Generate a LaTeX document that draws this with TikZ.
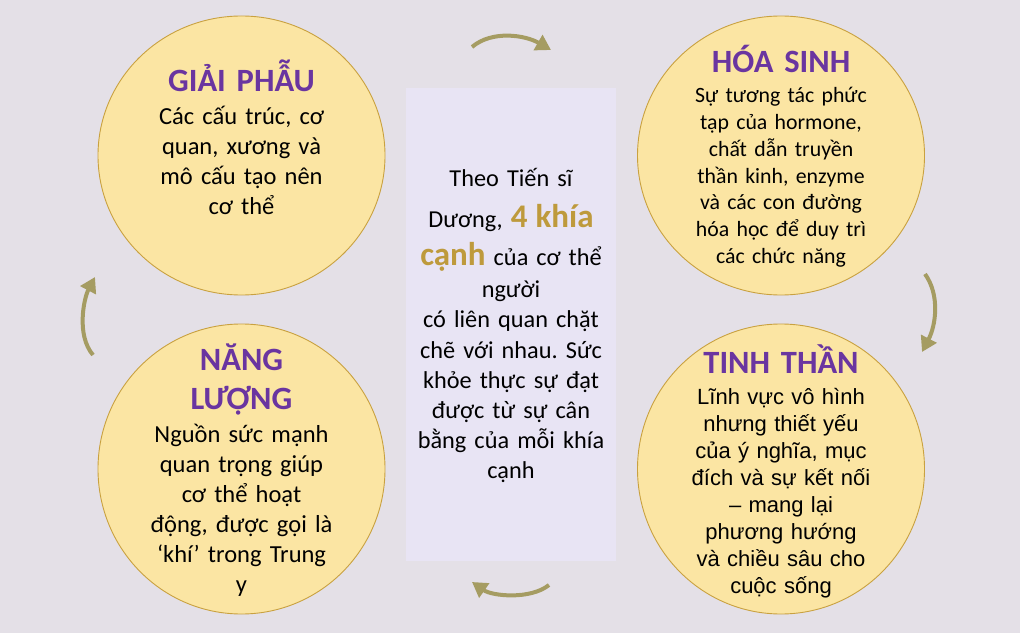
\documentclass[tikz,border=0pt]{standalone}
\usepackage{fontspec}
\setmainfont{Carlito}
\newfontfamily\arialf{Liberation Sans}
\usetikzlibrary{arrows.meta}
\frenchspacing
\definecolor{bgc}{HTML}{E4E0E7}
\definecolor{boxc}{HTML}{E8E4F4}
\definecolor{circfill}{HTML}{FBE5A3}
\definecolor{circdraw}{HTML}{C9A140}
\definecolor{titlec}{HTML}{6A35A0}
\definecolor{goldc}{HTML}{BE9A3C}
\definecolor{arrc}{HTML}{A59C62}
\tikzset{
  aspect/.style={draw=circdraw, line width=0.9pt, fill=circfill},
  ttl/.style={anchor=base, text=titlec, text width=260pt, font=\fontsize{32.5}{39}\selectfont\bfseries, align=center, inner sep=0pt},
  bodyA/.style={anchor=base, text width=240pt, align=center, inner sep=0pt, font=\fontsize{24.5}{30}\selectfont},
  bodyB/.style={anchor=base, text width=240pt, align=center, inner sep=0pt, font=\fontsize{21.8}{26.7}\selectfont},
  bodyC/.style={anchor=base, text width=240pt, align=center, inner sep=0pt, font=\arialf\fontsize{22}{27}\selectfont},
  cyc/.style={draw=arrc, line width=4pt, -{Triangle[length=15pt,width=17pt]}}
}
\newcommand{\bigword}[1]{{\color{goldc}\fontsize{33}{30}\selectfont\bfseries #1}}
\begin{document}
\begin{tikzpicture}[x=1pt,y=-1pt]
\useasboundingbox (0,0) rectangle (1024,636);
\fill[white] (0,0) rectangle (1024,636);
\fill[bgc] (0,0) rectangle (1020,633);
% circles
\draw[aspect] (241.5,155.5) ellipse [x radius=143.5, y radius=139.5];
\draw[aspect] (781,155.5) ellipse [x radius=143.5, y radius=139.5];
\draw[aspect] (241.5,469) ellipse [x radius=143.5, y radius=145];
\draw[aspect] (781,469) ellipse [x radius=143.5, y radius=145];
% center box
\fill[boxc] (406,88) rectangle (616,561);
% titles
\node[ttl] (t1) at (241.5,92) {GIẢI PHẪU};
\node[ttl] (t2) at (781,73) {HÓA SINH};
\node[ttl] (t3) at (241.5,370) {NĂNG\\LƯỢNG};
\node[ttl] (t4) at (781,373) {TINH THẦN};
% bodies
\node[bodyA] (b1) at (241.5,125) {Các cấu trúc, cơ\\quan, xương và\\mô cấu tạo nên\\cơ thể};
\node[bodyB] (b2) at (781,103) {Sự tương tác phức\\tạp của hormone,\\chất dẫn truyền\\thần kinh, enzyme\\và các con đường\\hóa học để duy trì\\các chức năng};
\node[bodyA] (b3) at (241.5,442) {Nguồn sức mạnh\\quan trọng giúp\\cơ thể hoạt\\động, được gọi là\\‘khí’ trong Trung\\y};
\node[bodyC] (b4) at (781,404) {Lĩnh vực vô hình\\nhưng thiết yếu\\của ý nghĩa, mục\\đích và sự kết nối\\– mang lại\\phương hướng\\và chiều sâu cho\\cuộc sống};
% center text
\node[anchor=base, text width=205pt, align=center, inner sep=0pt, font=\fontsize{24.3}{30}\selectfont] (ctr) at (511,187)
{Theo Tiến sĩ\\[10pt]
Dương, \bigword{4 khía}\\[8pt]
\bigword{cạnh} của cơ thể\\[3pt]
người\\
có liên quan chặt\\
chẽ với nhau. Sức\\
khỏe thực sự đạt\\
được từ sự cân\\
bằng của mỗi khía\\
cạnh};
% cycle arrows
\coordinate (a1s) at (472,47); \coordinate (a1e) at (551,50);
\coordinate (a2s) at (925,274); \coordinate (a2e) at (922,352);
\coordinate (a3s) at (549,585); \coordinate (a3e) at (472,582);
\coordinate (a4s) at (93,355); \coordinate (a4e) at (95,277);
\draw[cyc] (a1s) .. controls (492,30) and (525,35) .. (a1e);
\draw[cyc] (a2s) .. controls (940,295) and (936,325) .. (a2e);
\draw[cyc] (a3s) .. controls (530,600) and (492,596) .. (a3e);
\draw[cyc] (a4s) .. controls (76,335) and (84,298) .. (a4e);
\end{tikzpicture}
\end{document}
